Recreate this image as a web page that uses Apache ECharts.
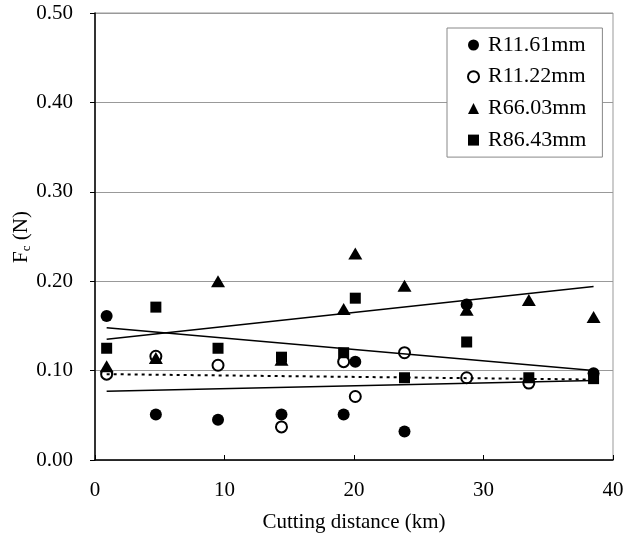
<!DOCTYPE html>
<html>
<head>
<meta charset="utf-8">
<script src="https://cdn.jsdelivr.net/npm/echarts@6/dist/echarts.min.js"></script>
<style>
html,body{margin:0;padding:0;background:#fff;}
#chart{width:625px;height:543px;}
</style>
</head>
<body>
<div id="chart"></div>
<script>
// Cutting distance (km) of each measurement
const distances = [0.9, 4.7, 9.5, 14.4, 19.2, 20.1, 23.9, 28.7, 33.5, 38.5];
// Fc (N) per tool radius
const r1161 = [0.161, 0.051, 0.045, 0.051, 0.051, 0.110, 0.032, 0.174, null, 0.097];
const r1122 = [0.096, 0.116, 0.106, 0.037, 0.110, 0.071, 0.120, 0.092, 0.086, null];
const r6603 = [0.105, 0.114, 0.200, 0.112, 0.169, 0.231, 0.195, 0.168, 0.179, 0.160];
const r8643 = [0.125, 0.171, 0.125, 0.115, 0.120, 0.181, 0.092, 0.132, 0.092, 0.091];
// Trend lines (start/end values at first and last distance)
const trendX = [0.9, 38.5];
const trend1161 = [0.077, 0.089];
const trend1122 = [0.096, 0.090];
const trend6603 = [0.135, 0.194];
const trend8643 = [0.148, 0.100];
const seriesNames = ['R11.61mm', 'R11.22mm', 'R66.03mm', 'R86.43mm'];
const xTicks = [0, 10, 20, 30, 40];
const yTicks = [0, 0.1, 0.2, 0.3, 0.4, 0.5];

const FONT = "'Liberation Serif','Times New Roman',serif";
function pts(ys) {
  const out = [];
  ys.forEach((v, i) => { if (v !== null) out.push([distances[i], v]); });
  return out;
}
function trend(ys) { return trendX.map((x, i) => [x, ys[i]]); }

const chart = echarts.init(document.getElementById('chart'), null, {renderer: 'canvas'});
const lineBase = {type: 'line', symbol: 'none', silent: true, z: 3, animation: false};
chart.setOption({
  animation: false,
  textStyle: {fontFamily: FONT, color: '#000'},
  grid: {left: 95, right: 12, top: 13, bottom: 83, containLabel: false, outerBoundsMode: 'none',
         show: true, borderColor: '#999', borderWidth: 1, backgroundColor: 'transparent'},
  graphic: [{
    type: 'text', x: 21, y: 237, rotation: Math.PI / 2,
    style: {
      text: '{a|F}{b|c}{a| (N)}', align: 'center', verticalAlign: 'middle',
      fontFamily: FONT, fill: '#000',
      rich: {
        a: {fontFamily: FONT, fontSize: 21, fill: '#000', lineHeight: 24},
        b: {fontFamily: FONT, fontSize: 13, fill: '#000', lineHeight: 14, verticalAlign: 'bottom'}
      }
    }
  }],
  xAxis: {
    type: 'value', min: xTicks[0], max: xTicks[xTicks.length - 1], interval: 10,
    name: 'Cutting distance (km)', nameLocation: 'middle', nameGap: 52,
    nameTextStyle: {fontFamily: FONT, fontSize: 21, color: '#000'},
    axisLine: {lineStyle: {color: '#000', width: 1.5}},
    axisTick: {inside: true, length: 5, lineStyle: {color: '#000'}},
    axisLabel: {fontFamily: FONT, fontSize: 21, color: '#000', margin: 20},
    splitLine: {show: false}
  },
  yAxis: {
    type: 'value', min: yTicks[0], max: yTicks[yTicks.length - 1], interval: 0.1,
    axisLine: {show: true, lineStyle: {color: '#000', width: 1.5}},
    axisTick: {show: true, inside: false, length: 5, lineStyle: {color: '#000'}},
    axisLabel: {fontFamily: FONT, fontSize: 21, color: '#000', margin: 22, formatter: v => v.toFixed(2)},
    splitLine: {show: true, lineStyle: {color: '#999', width: 1}}
  },
  legend: {
    orient: 'vertical', left: 447, top: 28,
    padding: [6, 16, 6, 20],
    backgroundColor: '#fff', borderColor: '#888', borderWidth: 1,
    itemWidth: 11, itemHeight: 11, itemGap: 9.7,
    textStyle: {fontFamily: FONT, fontSize: 22, color: '#000', lineHeight: 22, padding: [0, 0, 0, 4]},
    data: seriesNames
  },
  series: [
    Object.assign({}, lineBase, {name: 't1122', data: trend(trend1122), lineStyle: {color: '#000', width: 2, type: [3, 4]}}),
    Object.assign({}, lineBase, {name: 't1161', data: trend(trend1161), lineStyle: {color: '#000', width: 1.5}}),
    Object.assign({}, lineBase, {name: 't6603', data: trend(trend6603), lineStyle: {color: '#000', width: 1.5}}),
    Object.assign({}, lineBase, {name: 't8643', data: trend(trend8643), lineStyle: {color: '#000', width: 1.5}}),
    {name: seriesNames[1], type: 'scatter', data: pts(r1122), symbol: 'circle', symbolSize: 11,
     itemStyle: {color: '#fff', borderColor: '#000', borderWidth: 2, opacity: 1}, z: 2},
    {name: seriesNames[0], type: 'scatter', data: pts(r1161), symbol: 'circle', symbolSize: 12,
     itemStyle: {color: '#000', opacity: 1}, z: 2},
    {name: seriesNames[2], type: 'scatter', data: pts(r6603), symbol: 'triangle', symbolSize: [14, 12],
     itemStyle: {color: '#000', opacity: 1}, z: 2},
    {name: seriesNames[3], type: 'scatter', data: pts(r8643), symbol: 'rect', symbolSize: 11,
     itemStyle: {color: '#000', opacity: 1}, z: 2}
  ]
});
</script>
</body>
</html>
